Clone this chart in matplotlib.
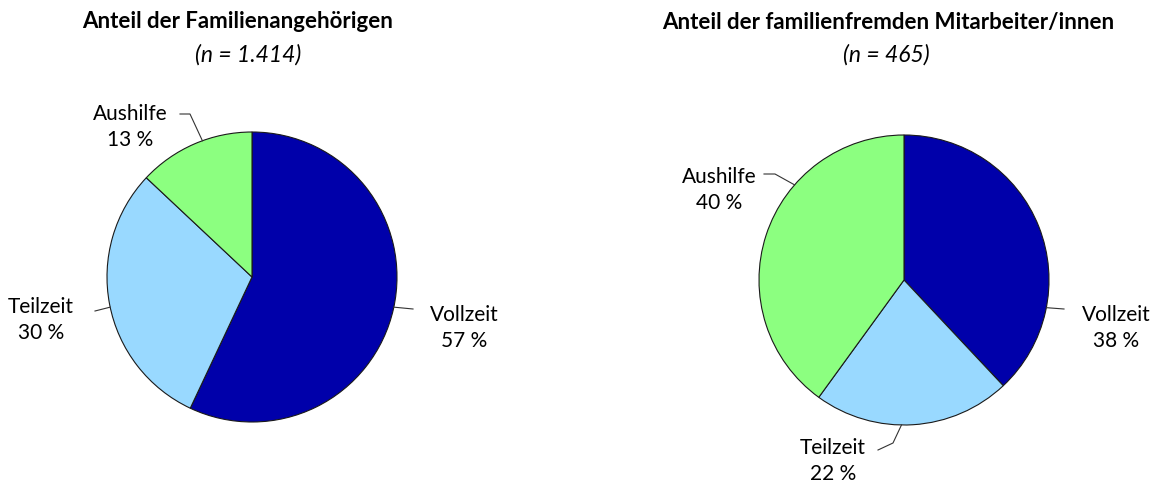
import numpy as np
import matplotlib.pyplot as plt

plt.rcParams['font.family'] = ['Lato', 'DejaVu Sans']

# Daten
kategorien = ['Vollzeit', 'Teilzeit', 'Aushilfe']
familie = [57, 30, 13]
fremd = [38, 22, 40]
farben = ['#0000AA', '#99D9FF', '#8CFF80']

titel = ['Anteil der Familienangehörigen', 'Anteil der familienfremden Mitarbeiter/innen']
untertitel = ['(n = 1.414)', '(n = 465)']

W, H = 1155, 486
fig = plt.figure(figsize=(W / 100, H / 100), dpi=100)
ax = fig.add_axes([0, 0, 1, 1])
ax.set_xlim(0, W)
ax.set_ylim(H, 0)  # Pixelkoordinaten, y nach unten
ax.set_aspect('equal')
ax.axis('off')

R = 145
# Layout je Diagramm: Mittelpunkt, Titelposition, Beschriftungen
layout = [
    dict(mitte=(252, 277), titel_x=238, sub_x=248,
         # (Textmitte, Knick-/Endpunkte der Linie, Winkel am Kreisrand)
         labels=[((464, 328), [(413, 309)], 102),
                 ((41, 320), [(95, 311)], 258),
                 ((130, 127), [(180, 114), (190, 114)], 340)]),
    dict(mitte=(904, 280), titel_x=888, sub_x=886,
         labels=[((1116, 328), [(1064, 309)], 101),
                 ((833, 461), [(878, 450), (893, 443)], 181),
                 ((719, 190), [(764, 174), (775, 174)], 311)]),
]

for werte, lay, t, st in zip([familie, fremd], layout, titel, untertitel):
    cx, cy = lay['mitte']
    # y-Achse ist invertiert -> counterclock=True zeichnet im Bild im Uhrzeigersinn
    ax.pie(werte, colors=farben, center=(cx, cy), radius=R, startangle=-90,
           counterclock=True, frame=True,
           wedgeprops=dict(edgecolor='#1a1a1a', linewidth=0.8))
    ax.text(lay['titel_x'], 22, t, ha='center', va='center',
            fontsize=16, fontweight='bold')
    ax.text(lay['sub_x'], 55, st, ha='center', va='center',
            fontsize=16.5, fontstyle='italic')

    for name, v, (pos, punkte, winkel) in zip(kategorien, werte, lay['labels']):
        a = np.deg2rad(winkel)
        rand = (cx + R * np.sin(a), cy - R * np.cos(a))
        pts = punkte + [rand]
        ax.plot([p[0] for p in pts], [p[1] for p in pts],
                color='#333333', linewidth=0.8)
        ax.text(pos[0], pos[1], f'{name}\n{v} %', ha='center', va='center',
                fontsize=15, linespacing=1.35)

ax.set_xlim(0, W)
ax.set_ylim(H, 0)
ax.axis('off')

fig.savefig('out.png', dpi=100)
